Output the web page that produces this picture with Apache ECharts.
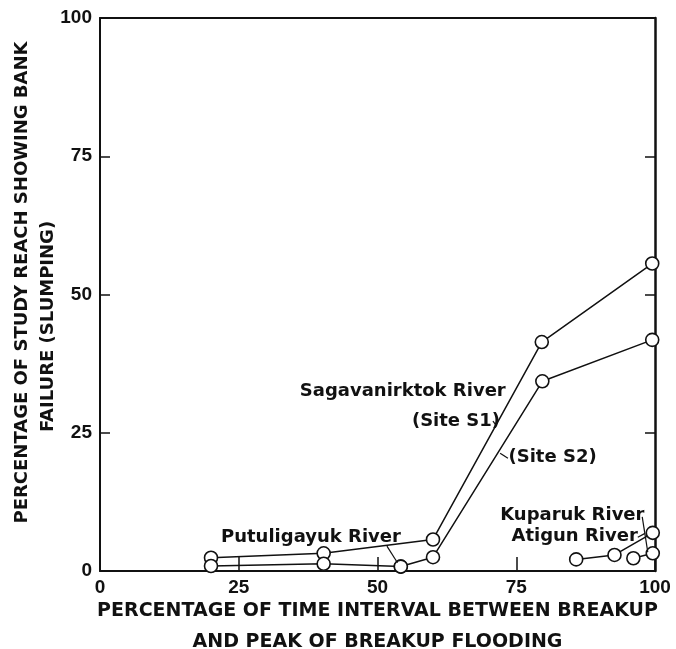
<!DOCTYPE html>
<html>
<head>
<meta charset="utf-8">
<script src="https://cdn.jsdelivr.net/npm/echarts@6/dist/echarts.min.js"></script>
<style>
  html, body { margin: 0; padding: 0; background: #fff; }
  #chart { width: 676px; height: 649px; }
</style>
</head>
<body>
<div id="chart"></div>
<script>
// 河岸坍塌比例 vs 解冻后时间间隔百分比
const xTicks = [0, 25, 50, 75, 100]
const yTicks = [0, 25, 50, 75, 100]

// 各河段观测点 [x, y]
const sagS1 = [[20, 2.4], [40.3, 3.2], [60, 5.7], [79.6, 41.4], [99.5, 55.6]]
const sagS2 = [[20, 0.9], [40.3, 1.3], [54.2, 0.8], [60, 2.5], [79.7, 34.3], [99.5, 41.8]]
const putuligayuk = [[54.2, 0.8]]
const kuparuk = [[85.8, 2.1], [92.7, 2.9], [99.6, 6.9]]
const atigun = [[96.1, 2.3], [99.6, 3.2]]

// 注释文字：[x, y, 文本, 对齐]
const notes = [
  [36.0, 32.4, 'Sagavanirktok River', 'left'],
  [56.2, 27.0, '(Site S1)', 'left'],
  [73.6, 20.5, '(Site S2)', 'left'],
  [21.8, 6.0, 'Putuligayuk River', 'left'],
  [98.1, 10.0, 'Kuparuk River', 'right'],
  [96.9, 6.3, 'Atigun River', 'right'],
]

// 引线：[[x1, y1], [x2, y2]]
const leaders = [
  [[51.7, 4.5], [53.6, 1.5]],
  [[70.8, 27.1], [71.5, 26.2]],
  [[72.1, 21.3], [73.5, 20.4]],
  [[97.7, 9.8], [98.7, 3.4]],
  [[96.9, 6.1], [98.2, 6.8]],
]

const FONT = 'DejaVu Sans'
const TICK_FONT = 'Liberation Sans'
const INK = '#111'

function lineSeries(name, data) {
  return {
    name: name,
    type: 'line',
    data: data,
    symbol: 'circle',
    symbolSize: 13,
    lineStyle: { color: INK, width: 1.5 },
    itemStyle: { color: '#fff', borderColor: INK, borderWidth: 1.6 },
    z: 3,
  }
}

const chart = echarts.init(document.getElementById('chart'), null, { renderer: 'canvas' })

const axisText = { color: INK, fontFamily: TICK_FONT, fontWeight: 'bold', fontSize: 19 }
const titleText = { color: INK, fontFamily: FONT, fontWeight: 'bold', fontSize: 18 }

chart.setOption({
  animation: false,
  backgroundColor: '#fff',
  // 关键：关闭 v6 的自动外边界收缩，网格按像素固定
  grid: { left: 100, right: 21, top: 18, bottom: 78, containLabel: false, outerBoundsMode: 'none' },
  xAxis: [
    {
      type: 'value',
      min: xTicks[0],
      max: xTicks[xTicks.length - 1],
      interval: 25,
      axisLine: { onZero: false, lineStyle: { color: INK, width: 2 } },
      axisTick: { inside: true, length: 14, lineStyle: { color: INK, width: 1.5 } },
      splitLine: { show: false },
      axisLabel: Object.assign({ margin: 7 }, axisText),
      name: 'PERCENTAGE OF TIME INTERVAL BETWEEN BREAKUP\nAND PEAK OF BREAKUP FLOODING',
      nameLocation: 'middle',
      nameGap: 25,
      nameMoveOverlap: false,
      nameTextStyle: { color: INK, fontFamily: FONT, fontWeight: 'bold', fontSize: 19, lineHeight: 31 },
    },
    {
      type: 'value',
      position: 'top',
      min: 0,
      max: 100,
      axisLine: { show: true, onZero: false, lineStyle: { color: INK, width: 2 } },
      axisTick: { show: false },
      axisLabel: { show: false },
      splitLine: { show: false },
    },
  ],
  yAxis: [
    {
      type: 'value',
      min: yTicks[0],
      max: yTicks[yTicks.length - 1],
      interval: 25,
      axisLine: { onZero: false, lineStyle: { color: INK, width: 2 } },
      axisTick: { inside: true, length: 10, lineStyle: { color: INK, width: 1.5 } },
      splitLine: { show: false },
      axisLabel: Object.assign({ margin: 8 }, axisText),
      // 两行标题在原图中并不同心：用 rich 的 padding 错开
      name: '{a|PERCENTAGE OF STUDY REACH SHOWING BANK}\n{b|FAILURE (SLUMPING)}',
      nameLocation: 'middle',
      nameGap: 39,
      nameMoveOverlap: false,
      nameTextStyle: {
        color: INK,
        lineHeight: 26,
        rich: {
          a: Object.assign({ lineHeight: 26, padding: [0, 0, 0, 24] }, titleText),
          b: Object.assign({ lineHeight: 26, padding: [0, 64, 0, 0] }, titleText),
        },
      },
    },
    {
      type: 'value',
      position: 'right',
      min: 0,
      max: 100,
      interval: 25,
      axisLine: { show: true, onZero: false, lineStyle: { color: INK, width: 2.5 } },
      axisTick: { inside: true, length: 10, lineStyle: { color: INK, width: 1.5 } },
      axisLabel: { show: false },
      splitLine: { show: false },
    },
  ],
  series: [
    lineSeries('Sagavanirktok River (Site S1)', sagS1),
    lineSeries('Sagavanirktok River (Site S2)', sagS2),
    lineSeries('Putuligayuk River', putuligayuk),
    lineSeries('Kuparuk River', kuparuk),
    lineSeries('Atigun River', atigun),
    {
      // 注释文字与引线
      type: 'scatter',
      symbolSize: 0,
      itemStyle: { opacity: 1 },
      data: notes.map((n) => ({
        value: [n[0], n[1]],
        label: {
          show: true,
          position: 'inside',
          formatter: n[2],
          align: n[3],
          verticalAlign: 'middle',
          color: INK,
          fontFamily: FONT,
          fontWeight: 'bold',
          fontSize: 18,
        },
      })),
      markLine: {
        silent: true,
        symbol: 'none',
        label: { show: false },
        lineStyle: { color: INK, width: 1.2, type: 'solid', opacity: 1 },
        data: leaders.map((l) => [{ coord: l[0] }, { coord: l[1] }]),
      },
      z: 4,
    },
  ],
})
</script>
</body>
</html>
